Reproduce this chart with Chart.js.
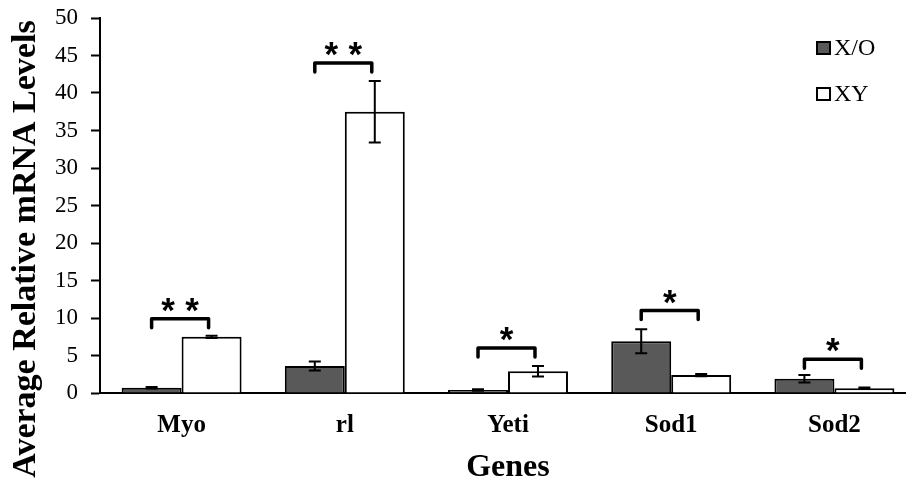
<!DOCTYPE html>
<html><head><meta charset="utf-8">
<script src="https://cdn.jsdelivr.net/npm/chart.js@4"></script>
<style>
html,body{margin:0;padding:0;background:#fff;overflow:hidden;}
#wrap{width:920px;height:484px;position:relative;}
</style></head><body>
<div id="wrap"><canvas id="c"></canvas></div>
<script>
const genes = ['Myo', 'rl', 'Yeti', 'Sod1', 'Sod2'];
const seriesNames = ['X/O', 'XY'];
const xoValues = [0.7, 3.6, 0.4, 6.9, 1.9];
const xoErrors = [0.1, 0.6, 0.1, 1.6, 0.5];
const xyValues = [7.5, 37.5, 2.9, 2.4, 0.65];
const xyErrors = [0.15, 4.1, 0.7, 0.15, 0.1];
const sigMarks = ['**', '**', '*', '*', '*'];
const sigHeights = [9.9, 44.0, 6.0, 11.0, 4.5];
const yTicks = [0, 5, 10, 15, 20, 25, 30, 35, 40, 45, 50];
const yTitle = 'Average Relative mRNA Levels';
const xTitle = 'Genes';

const SERIF = '"Liberation Serif", "Times New Roman", serif';
const errorsBySeries = [xoErrors, xyErrors];

const errorBarPlugin = {
  id: 'errorBars',
  afterDatasetsDraw(chart) {
    const ctx = chart.ctx, ys = chart.scales.y;
    ctx.save();
    ctx.strokeStyle = '#000';
    ctx.lineWidth = 2;
    chart.data.datasets.forEach((ds, di) => {
      const meta = chart.getDatasetMeta(di);
      meta.data.forEach((bar, i) => {
        const v = ds.data[i], e = errorsBySeries[di][i];
        const yTop = ys.getPixelForValue(v + e), yBot = ys.getPixelForValue(v - e);
        const x = bar.x;
        ctx.beginPath();
        ctx.moveTo(x, yTop); ctx.lineTo(x, yBot);
        ctx.moveTo(x - 6, yTop); ctx.lineTo(x + 6, yTop);
        ctx.moveTo(x - 6, yBot); ctx.lineTo(x + 6, yBot);
        ctx.stroke();
      });
    });
    ctx.restore();
  }
};

const bracketPlugin = {
  id: 'brackets',
  afterDatasetsDraw(chart) {
    const ctx = chart.ctx, ys = chart.scales.y;
    const m0 = chart.getDatasetMeta(0), m1 = chart.getDatasetMeta(1);
    ctx.save();
    ctx.strokeStyle = '#000';
    ctx.fillStyle = '#000';
    ctx.lineWidth = 3.5;
    ctx.lineCap = 'round';
    ctx.lineJoin = 'round';
    ctx.font = 'bold 35px "Liberation Sans", Arial, sans-serif';
    ctx.textAlign = 'center';
    ctx.textBaseline = 'alphabetic';
    genes.forEach((g, i) => {
      const x1 = m0.data[i].x, x2 = m1.data[i].x - 3;
      const y = ys.getPixelForValue(sigHeights[i]);
      ctx.beginPath();
      ctx.moveTo(x1, y + 9); ctx.lineTo(x1, y); ctx.lineTo(x2, y); ctx.lineTo(x2, y + 9);
      ctx.stroke();
      const n = sigMarks[i].length, cx = (x1 + x2) / 2;
      const mt = ctx.measureText('*');
      const mid = (mt.actualBoundingBoxAscent - mt.actualBoundingBoxDescent) / 2;
      for (let k = 0; k < n; k++) {
        const sx = cx + (k - (n - 1) / 2) * 24;
        ctx.fillText('*', sx, y - 14 + mid);
      }
    });
    ctx.restore();
  }
};

const legendTitlePlugin = {
  id: 'legendAndTitle',
  afterDraw(chart) {
    const ctx = chart.ctx;
    ctx.save();
    ctx.font = '24px ' + SERIF;
    ctx.textAlign = 'left';
    ctx.textBaseline = 'middle';
    const rows = [48, 94];
    chart.data.datasets.forEach((ds, di) => {
      const cy = rows[di];
      ctx.fillStyle = ds.backgroundColor;
      ctx.fillRect(817, cy - 6, 13, 12);
      ctx.strokeStyle = '#000';
      ctx.lineWidth = 2;
      ctx.strokeRect(817, cy - 6, 13, 12);
      ctx.fillStyle = '#000';
      ctx.fillText(ds.label, 834, cy + 1);
    });
    ctx.translate(26, 249);
    ctx.rotate(-Math.PI / 2);
    ctx.font = 'bold 34px ' + SERIF;
    ctx.textAlign = 'center';
    ctx.textBaseline = 'middle';
    ctx.fillStyle = '#000';
    ctx.fillText(yTitle, 0, 0);
    ctx.restore();
  }
};

new Chart(document.getElementById('c'), {
  type: 'bar',
  data: {
    labels: genes,
    datasets: [
      { label: seriesNames[0], data: xoValues, backgroundColor: '#595959', borderColor: '#000', borderWidth: 2 },
      { label: seriesNames[1], data: xyValues, backgroundColor: '#ffffff', borderColor: '#000', borderWidth: 2 }
    ]
  },
  options: {
    responsive: true,
    maintainAspectRatio: false,
    animation: false,
    categoryPercentage: 0.735,
    barPercentage: 1.0,
    layout: { padding: { top: 18, right: 4, bottom: 0, left: 0 } },
    plugins: { legend: { display: false }, tooltip: { enabled: false } },
    scales: {
      x: {
        grid: { drawOnChartArea: false, drawTicks: false },
        border: { color: '#000', width: 2 },
        ticks: { font: { family: SERIF, size: 25, weight: 'bold' }, color: '#000', padding: 18 },
        title: { display: true, text: xTitle, font: { family: SERIF, size: 32, weight: 'bold' }, color: '#000', padding: { top: 0, bottom: -3 } },
        afterFit(s) { s.height = 91; s.paddingLeft = 0; s.paddingRight = 0; }
      },
      y: {
        min: 0, max: 50,
        grid: { drawOnChartArea: false, drawTicks: true, tickLength: 9, tickWidth: 2, tickColor: '#000' },
        border: { color: '#000', width: 2 },
        ticks: { font: { family: SERIF, size: 23 }, color: '#000', padding: 13 },
        afterBuildTicks(s) { s.ticks = yTicks.map(v => ({ value: v })); },
        afterFit(s) { s.width = 100; s.paddingTop = 0; s.paddingBottom = 0; }
      }
    }
  },
  plugins: [errorBarPlugin, bracketPlugin, legendTitlePlugin]
});
</script>
</body></html>
